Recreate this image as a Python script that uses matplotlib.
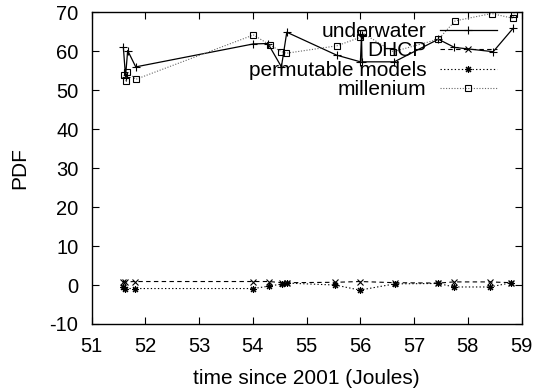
import matplotlib
matplotlib.use("Agg")
import matplotlib.pyplot as plt

plt.rcParams['font.family'] = ['Liberation Sans', 'DejaVu Sans']
plt.rcParams['axes.unicode_minus'] = False

# underwater
x_u = [51.59, 51.63, 51.67, 51.82, 54.01, 54.28, 54.53, 54.63, 55.56, 56.00, 56.02, 56.03, 56.63, 57.45, 57.75, 58.47, 58.84]
y_u = [61.0, 53.5, 60.2, 56.0, 61.9, 62.0, 56.0, 64.9, 59.0, 57.3, 64.3, 57.3, 57.3, 63.1, 61.0, 59.9, 65.9]

# DHCP
x_d = [51.58, 51.62, 51.80, 54.01, 54.29, 54.55, 54.63, 55.53, 55.99, 56.64, 57.45, 57.74, 58.41, 58.81]
y_d = [0.9, 0.8, 0.9, 0.9, 0.9, 0.6, 0.6, 0.7, 0.9, 0.6, 0.5, 0.8, 0.8, 0.6]

# permutable models
x_p = [51.58, 51.62, 51.80, 54.01, 54.29, 54.55, 54.63, 55.53, 55.99, 56.64, 57.45, 57.74, 58.41, 58.81]
y_p = [-0.5, -0.9, -0.9, -0.9, -0.3, 0.3, 0.5, 0.0, -1.3, 0.3, 0.4, -0.5, -0.5, 0.6]

# millenium
x_m = [51.60, 51.64, 51.66, 51.82, 54.01, 54.32, 54.53, 54.62, 55.56, 56.00, 56.05, 56.61, 57.45, 57.76, 58.44, 58.83, 58.86]
y_m = [53.9, 52.4, 54.8, 52.8, 64.2, 61.6, 59.9, 59.5, 61.4, 63.6, 64.6, 59.9, 63.1, 67.8, 69.7, 68.5, 69.7]

xticks = [51, 52, 53, 54, 55, 56, 57, 58, 59]
yticks = [-10, 0, 10, 20, 30, 40, 50, 60, 70]

FS = 14.5
LFS = 15

fig = plt.figure(figsize=(5.36, 3.91), dpi=100)
ax = fig.add_axes([0.171, 0.1714, 0.8023, 0.797])

ax.plot(x_u, y_u, color='black', lw=0.9, ls='-', marker='+', ms=6, mew=0.8, label='underwater')
ax.plot(x_d, y_d, color='black', lw=0.8, ls=(0, (4, 3)), marker='x', ms=4, mew=0.8, label='DHCP')
ax.plot(x_p, y_p, color='black', lw=0.8, ls=(0, (1.2, 2)), marker=(8, 2, 0), ms=5, mew=0.8, label='permutable models')
ax.plot(x_m, y_m, color='#666666', lw=0.8, ls=(0, (1, 1.5)), marker='s', ms=4.5, mew=0.8,
        mfc='none', mec='black', label='millenium')

ax.set_xlim(51, 59)
ax.set_ylim(-10, 70)
ax.set_xticks(xticks)
ax.set_yticks(yticks)
ax.tick_params(direction='in', top=True, right=True, length=5, width=0.8, labelsize=FS)
ax.tick_params(axis='x', pad=9.5)
ax.tick_params(axis='y', pad=9.5)
for s in ax.spines.values():
    s.set_linewidth(1.0)

ax.set_xlabel('time since 2001 (Joules)', fontsize=LFS, labelpad=9.5)
ax.set_ylabel('PDF', fontsize=LFS, labelpad=15)

leg = ax.legend(loc='upper right', bbox_to_anchor=(0.9426, 0.969), frameon=False,
                markerfirst=False, fontsize=LFS,
                handlelength=2.75, handletextpad=0.65, labelspacing=0.02,
                borderaxespad=0.0, borderpad=0.0)

fig.savefig('out.png', dpi=100)
